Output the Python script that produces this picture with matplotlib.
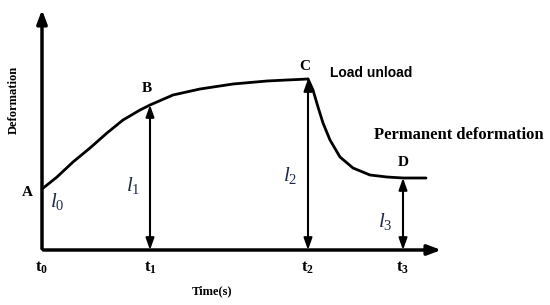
import matplotlib
matplotlib.use("Agg")
import matplotlib.pyplot as plt

plt.rcParams["font.family"] = ["Liberation Serif", "DejaVu Serif"]
plt.rcParams["mathtext.fontset"] = "custom"
plt.rcParams["mathtext.rm"] = "Liberation Serif"
plt.rcParams["mathtext.it"] = "Liberation Serif:italic"
plt.rcParams["mathtext.bf"] = "Liberation Serif:bold"

# curve (time, deformation), in pixel-like units
load_t = [0, 15, 31, 48, 65, 81, 98, 108, 131, 158, 191, 225, 245, 266]
load_d = [61, 73, 88, 102, 117, 130, 140, 145, 155, 161, 166, 169, 170, 171]
unload_t = [266, 271, 276, 281, 288, 298, 311, 328, 345, 361, 384]
unload_d = [171, 160, 143, 127, 110, 93, 82, 75, 73, 72, 72]

# marked points and their times
points = ["A", "B", "C", "D"]
pt_t = [0, 108, 266, 361]
pt_d = [61, 145, 171, 72]
ticks = [r"$\mathbf{t_0}$", r"$\mathbf{t_1}$", r"$\mathbf{t_2}$", r"$\mathbf{t_3}$"]
lens = [r"$l_{\mathrm{0}}$", r"$l_{\mathrm{1}}$", r"$l_{\mathrm{2}}$", r"$l_{\mathrm{3}}$"]

fig = plt.figure(figsize=(5.5, 3.05), dpi=100)
ax = fig.add_axes([0, 0, 1, 1])
ax.set_xlim(-42, 508)
ax.set_ylim(-55, 250)
ax.axis("off")

# axes with arrow heads
ax.annotate("", xy=(0, 243), xytext=(0, -1.5),
            arrowprops=dict(arrowstyle="-|>,head_length=0.8,head_width=0.3", lw=2.5, color="black"))
ax.annotate("", xy=(402, 0), xytext=(-1.5, 0),
            arrowprops=dict(arrowstyle="-|>,head_length=0.8,head_width=0.3", lw=2.5, color="black"))

ax.plot(load_t, load_d, color="black", lw=2, solid_capstyle="round", solid_joinstyle="round")
ax.plot(unload_t, unload_d, color="black", lw=2, solid_capstyle="round", solid_joinstyle="round")

# vertical double arrows l1..l3
for t, d in zip(pt_t[1:], pt_d[1:]):
    ax.annotate("", xy=(t, d), xytext=(t, 0),
                arrowprops=dict(arrowstyle="<|-|>,head_length=0.7,head_width=0.25",
                                lw=1.5, color="black", shrinkA=0, shrinkB=0))

# point labels
lab_off = [(-15, -3), (-3, 16), (-3, 13), (0, 16)]
for name, t, d, (dx, dy) in zip(points, pt_t, pt_d, lab_off):
    ax.text(t + dx, d + dy, name, fontsize=11, fontweight="bold", ha="center", va="center")

# length labels
len_pos = [(15, 48), (91, 64), (248, 75), (343, 28)]
navy = "#1c2a48"
for s, (x, y) in zip(lens, len_pos):
    ax.text(x, y, s, fontsize=15, color=navy, ha="center", va="center")

# time ticks
for s, t in zip(ticks, [0] + pt_t[1:]):
    ax.text(t, -18, s, fontsize=12, ha="center", va="center")

ax.text(170, -41, "Time(s)", fontsize=9, fontweight="bold", ha="center", va="center")
ax.text(-28, 150, "Deformation", fontsize=9, fontweight="bold", rotation=90,
        ha="center", va="center")
ax.text(288, 177, "Load unload", fontsize=10, fontweight="bold",
        family="Liberation Sans", ha="left", va="center")
ax.text(332, 115, "Permanent deformation", fontsize=12, fontweight="bold",
        ha="left", va="center")

fig.savefig("out.png", dpi=100)
